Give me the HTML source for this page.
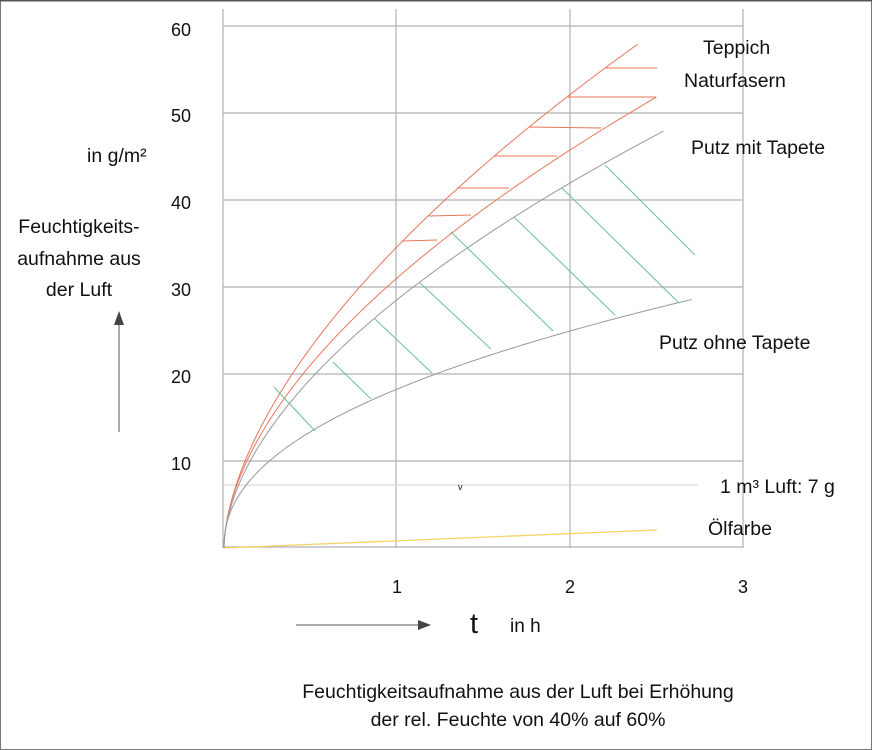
<!DOCTYPE html>
<html><head><meta charset="utf-8"><style>
html,body{margin:0;padding:0;background:#fff}
svg{display:block}
text{font-family:"Liberation Sans",sans-serif;fill:#111}
</style></head><body>
<svg width="872" height="750" viewBox="0 0 872 750" xmlns="http://www.w3.org/2000/svg">
<rect x="0.5" y="0.5" width="871" height="749" fill="#fff" stroke="#777" stroke-width="1"/>
<line x1="0" y1="0.5" x2="872" y2="0.5" stroke="#555" stroke-width="2"/>
<g stroke="#b0b0b0" stroke-width="1.2">
<line x1="223" y1="9" x2="223" y2="548"/>
<line x1="396" y1="9" x2="396" y2="548"/>
<line x1="570" y1="9" x2="570" y2="548"/>
<line x1="743" y1="9" x2="743" y2="548"/>
<line x1="223" y1="26" x2="743" y2="26"/>
<line x1="223" y1="113" x2="743" y2="113"/>
<line x1="223" y1="200" x2="743" y2="200"/>
<line x1="223" y1="287" x2="743" y2="287"/>
<line x1="223" y1="374" x2="743" y2="374"/>
<line x1="223" y1="461" x2="743" y2="461"/>
<line x1="223" y1="547" x2="743" y2="547"/>
</g>
<line x1="223" y1="485" x2="698" y2="485" stroke="#d0d0d0" stroke-width="1"/>
<text x="458" y="490" font-size="9">v</text>
<line x1="224" y1="548" x2="657" y2="530" stroke="#f2d36a" stroke-width="1.3"/>
<g fill="none" stroke-width="1">
<path id="c1" stroke="#e8765a" d=""/>
<path id="c2" stroke="#e8765a" d=""/>
<path id="c3" stroke="#999" d=""/>
<path id="c4" stroke="#999" d=""/>
</g>
<g stroke="#e8765a" stroke-width="1">
<line x1="606" y1="68" x2="657" y2="68"/>
<line x1="568" y1="97" x2="656" y2="97"/>
<line x1="529" y1="127" x2="601" y2="128"/>
<line x1="494" y1="156" x2="557" y2="156"/>
<line x1="458" y1="188" x2="509" y2="188"/>
<line x1="429" y1="216" x2="471" y2="215"/>
<line x1="402" y1="241" x2="437" y2="240"/>
</g>
<g stroke="#6cc09a" stroke-width="1">
<line x1="605" y1="165" x2="695" y2="255"/>
<line x1="562" y1="188" x2="679" y2="303"/>
<line x1="514" y1="217" x2="615" y2="315"/>
<line x1="451" y1="232" x2="553" y2="331"/>
<line x1="420" y1="283" x2="491" y2="349"/>
<line x1="375" y1="319" x2="432" y2="373"/>
<line x1="333" y1="362" x2="371" y2="399"/>
<line x1="274" y1="387" x2="315" y2="431"/>
</g>
<g font-size="18" text-anchor="end">
<text x="191" y="36">60</text>
<text x="191" y="122">50</text>
<text x="191" y="209">40</text>
<text x="191" y="296">30</text>
<text x="191" y="383">20</text>
<text x="191" y="470">10</text>
</g>
<g font-size="18" text-anchor="middle">
<text x="397" y="593">1</text>
<text x="570" y="593">2</text>
<text x="743" y="593">3</text>
</g>
<g font-size="19.5" text-anchor="middle">
<text x="79" y="233">Feuchtigkeits-</text>
<text x="79" y="265">aufnahme aus</text>
<text x="79" y="296">der Luft</text>
<text x="518" y="698">Feuchtigkeitsaufnahme aus der Luft bei Erhöhung</text>
<text x="518" y="726">der rel. Feuchte von 40% auf 60%</text>
</g>
<text x="87" y="162" font-size="19.5">in g/m²</text>
<g font-size="19.5">
<text x="703" y="54">Teppich</text>
<text x="684" y="87">Naturfasern</text>
<text x="691" y="154">Putz mit Tapete</text>
<text x="659" y="349">Putz ohne Tapete</text>
<text x="720" y="493">1 m³ Luft: 7 g</text>
<text x="708" y="535">Ölfarbe</text>
</g>
<line x1="119" y1="432" x2="119" y2="318" stroke="#555" stroke-width="1"/>
<polygon points="119,311 114,325 124,325" fill="#444"/>
<line x1="296" y1="625" x2="422" y2="625" stroke="#555" stroke-width="1"/>
<polygon points="431,625 418,620 418,630" fill="#444"/>
<text x="470" y="633" font-size="29">t</text>
<text x="510" y="632" font-size="19">in h</text>
<script>
function curve(id,a,p,tEnd){
 var d="";
 for(var i=0;i<=200;i++){var t=tEnd*Math.pow(i/200,2);var x=224+173*t;var y=548-8.68*a*Math.pow(t,p);d+=(i?"L":"M")+x.toFixed(2)+","+y.toFixed(2);}
 document.getElementById(id).setAttribute("d",d);
}
curve("c1",34.7,0.59,2.39);
curve("c2",31.1,0.56,2.5);
curve("c3",28.6,0.556,2.54);
curve("c4",18.3,0.45,2.705);
</script>
</svg>
</body></html>
